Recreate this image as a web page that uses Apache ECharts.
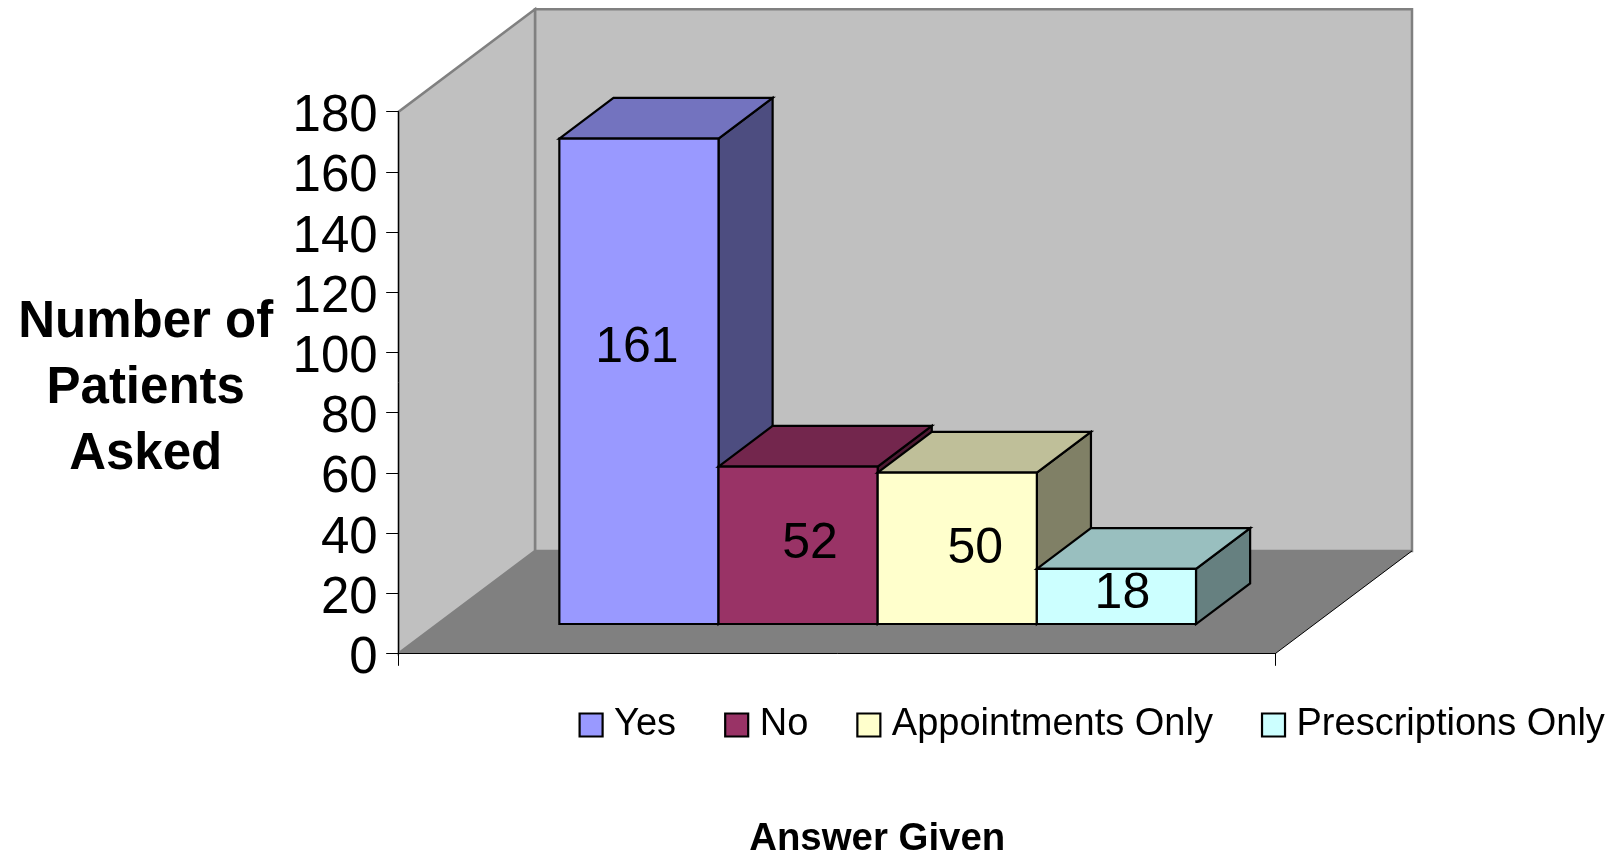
<!DOCTYPE html>
<html>
<head>
<meta charset="utf-8">
<style>html,body{margin:0;padding:0;background:#fff}#chart{width:1614px;height:855px}</style>
<script src="https://cdn.jsdelivr.net/npm/echarts@6/dist/echarts.min.js"></script>
</head>
<body>
<div id="chart"></div>
<script>
const categories = [''];
const seriesNames = ['Yes', 'No', 'Appointments Only', 'Prescriptions Only'];
const seriesValues = [161, 52, 50, 18];
const xAxisTitle = 'Answer Given';
const yAxisTitle = 'Number of\nPatients\nAsked';
const yMin = 0, yMax = 180, yStep = 20;

const frontColors = ['#9999FF', '#993366', '#FFFFCC', '#CCFFFF'];
const topColors   = ['#7373BF', '#73264D', '#BFBF99', '#99BFBF'];
const sideColors  = ['#4D4D80', '#4D1A33', '#808066', '#668080'];
const labelNudges = [[-2, -33], [12, -1], [18, 1], [6, -2]];
const FONT = '"Liberation Sans", Arial, sans-serif';

// Oblique projection used for the 3D look
const DEPTH_X = 136.3, DEPTH_Y = -102.4;
const BAR_FRONT = 0.286, BAR_DEPTH = 0.397, GAP_RATIO = 1.51, BAR_SHIFT_X = 1.5, BAR_SHIFT_TOP = -1;
const shift = (p, d) => [p[0] + DEPTH_X * d, p[1] + DEPTH_Y * d];
const poly = (points, fill, stroke, width) => ({
  type: 'polygon', shape: { points },
  style: { fill, stroke: stroke || null, lineWidth: width || 0, lineJoin: 'miter' }, silent: true
});

function renderRoom(params, api) {
  const band = api.size([1, 0])[0];
  const cx = api.coord([0, 0])[0];
  const y0 = api.coord([0, yMin])[1];
  const y1 = api.coord([0, yMax])[1];
  const a = [cx - band / 2, y0], b = [cx + band / 2, y0], c = [cx - band / 2, y1];
  return { type: 'group', children: [
    poly([shift(a, 1), shift(b, 1), shift([b[0], y1], 1), shift(c, 1)], '#C0C0C0', '#808080', 2.5),
    poly([a, c, shift(c, 1), shift(a, 1)], '#C0C0C0', '#808080', 2.5),
    poly([a, b, shift(b, 1), shift(a, 1)], '#808080'),
    { type: 'polyline', shape: { points: [b, shift(b, 1)] }, style: { stroke: '#000', lineWidth: 1, fill: null }, silent: true }
  ]};
}

function makeBarRenderer(i) {
  return function (params, api) {
    const band = api.size([1, 0])[0];
    const barW = band / (seriesValues.length + GAP_RATIO);
    const cx = api.coord([api.value(0), 0])[0];
    const left = cx - band / 2 + barW * (GAP_RATIO / 2 + i) + BAR_SHIFT_X;
    const yb = api.coord([0, 0])[1];
    const yt = api.coord([0, api.value(1)])[1] + BAR_SHIFT_TOP;
    const fbl = shift([left, yb], BAR_FRONT), fbr = shift([left + barW, yb], BAR_FRONT);
    const ftl = shift([left, yt], BAR_FRONT), ftr = shift([left + barW, yt], BAR_FRONT);
    const back = p => shift(p, BAR_DEPTH);
    return { type: 'group', children: [
      poly([ftr, fbr, back(fbr), back(ftr)], sideColors[i], '#000', 2.2),
      poly([ftl, ftr, back(ftr), back(ftl)], topColors[i], '#000', 2.2),
      poly([fbl, fbr, ftr, ftl], frontColors[i], '#000', 2.2),
      { type: 'text', silent: true, style: {
          text: String(api.value(1)),
          x: (fbl[0] + fbr[0]) / 2 + labelNudges[i][0],
          y: (fbl[1] + ftl[1]) / 2 + labelNudges[i][1],
          align: 'center', verticalAlign: 'middle',
          fill: '#000', font: '50px ' + FONT
      } }
    ]};
  };
}

const chart = echarts.init(document.getElementById('chart'), null, { renderer: 'canvas' });
chart.setOption({
  animation: false,
  backgroundColor: '#fff',
  title: {
    text: yAxisTitle, left: 145.7, top: 290, padding: 0, textAlign: 'center',
    textStyle: { fontFamily: FONT, fontSize: 51, fontWeight: 'bold', color: '#000', lineHeight: 66 }
  },
  grid: { left: 398.7, top: 111.7, width: 877, height: 541.6, containLabel: false, outerBoundsMode: 'none' },
  legend: {
    data: seriesNames,
    left: 573.5, top: 701,
    icon: 'rect', itemWidth: 23, itemHeight: 23, itemGap: 48,
    selectedMode: false,
    itemStyle: { borderColor: '#000', borderWidth: 2.2 },
    textStyle: { fontFamily: FONT, fontSize: 38, color: '#000', padding: [0, 0, 0, 6.5] }
  },
  xAxis: {
    type: 'category', data: categories, z: 1,
    name: xAxisTitle, nameLocation: 'middle', nameGap: 167.5,
    nameTextStyle: { fontFamily: FONT, fontSize: 38.4, fontWeight: 'bold', color: '#000', padding: [0, 0, 0, 80] },
    axisLine: { lineStyle: { color: '#000', width: 1 } },
    axisTick: { show: true, length: 12.5, lineStyle: { color: '#000', width: 1 } },
    axisLabel: { show: false },
    splitLine: { show: false }
  },
  yAxis: {
    type: 'value', min: yMin, max: yMax, interval: yStep, z: 1,
    axisLine: { show: true, lineStyle: { color: '#000', width: 1 } },
    axisTick: { show: true, length: 12.5, lineStyle: { color: '#000', width: 1 } },
    axisLabel: { fontFamily: FONT, fontSize: 51, color: '#000', margin: 21, verticalAlign: 'top', lineHeight: 11 },
    splitLine: { show: false }
  },
  series: [
    { type: 'custom', name: 'room', z: 0, silent: true, renderItem: renderRoom, data: [[0, yMax]],
      encode: { x: 0, y: 1 }, clip: false, tooltip: { show: false } }
  ].concat(seriesNames.map((name, i) => ({
    type: 'custom', name, z: 2 + i, silent: true, clip: false,
    renderItem: makeBarRenderer(i),
    itemStyle: { color: frontColors[i] },
    encode: { x: 0, y: 1 },
    data: [[0, seriesValues[i]]]
  })))
});
</script>
</body>
</html>
